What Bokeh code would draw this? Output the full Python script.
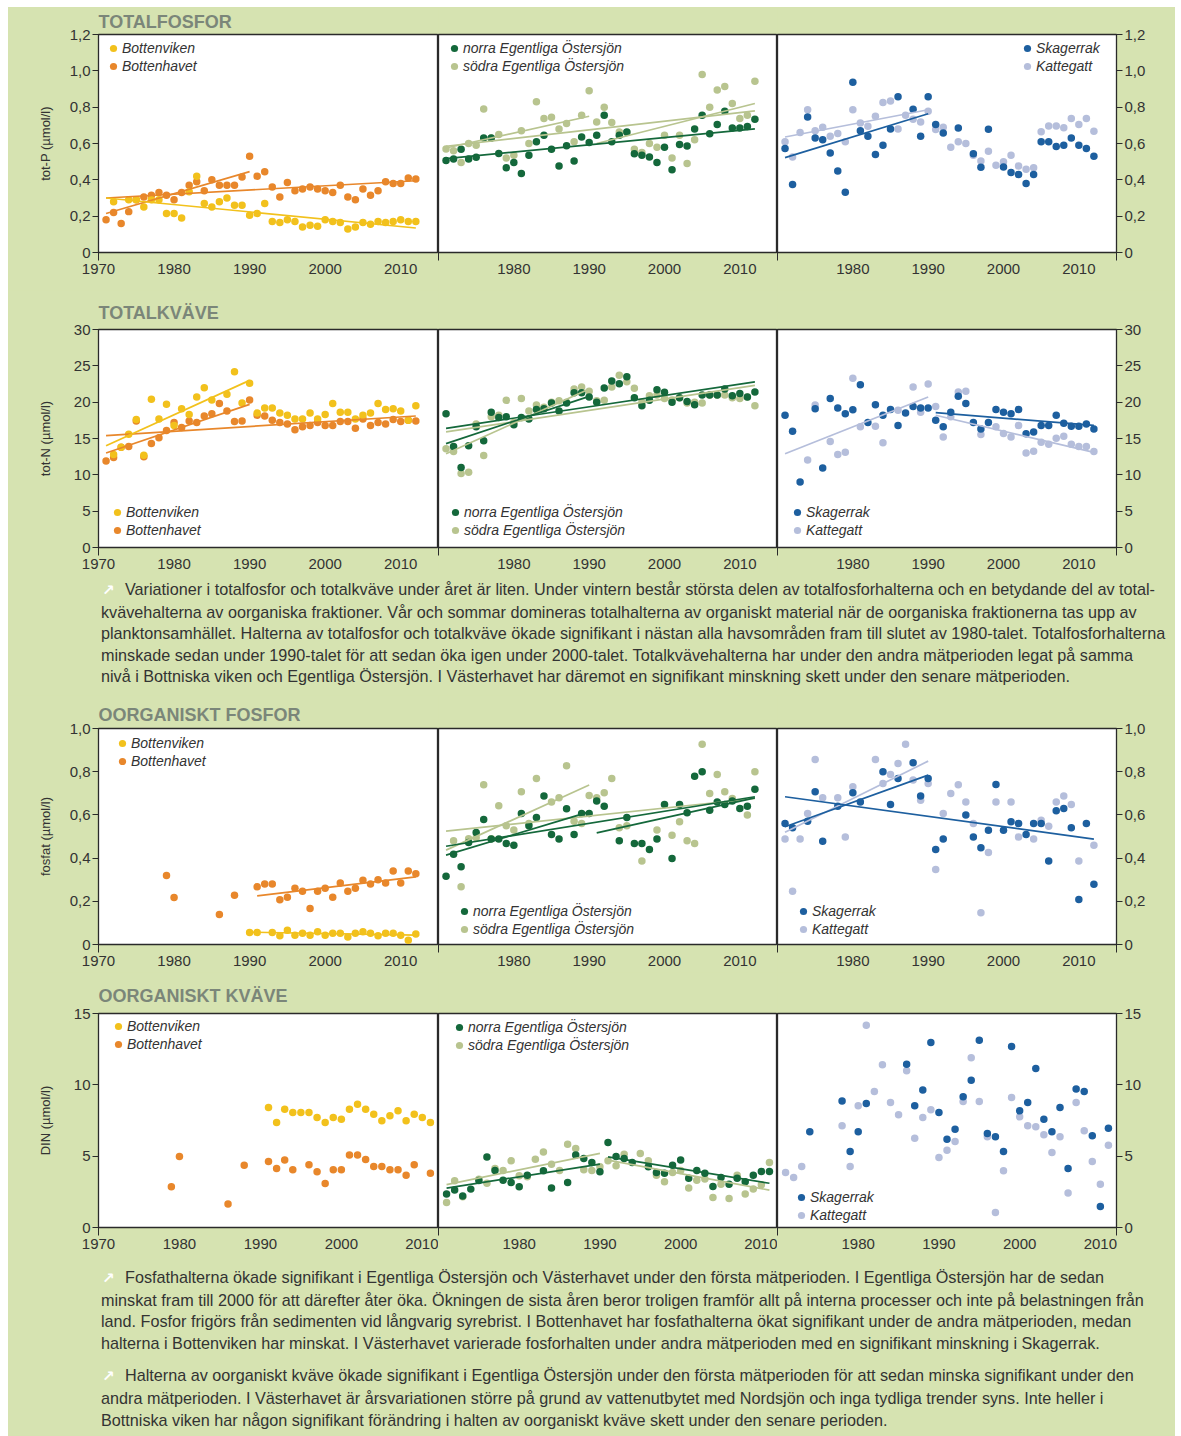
from bokeh.plotting import figure
from bokeh.layouts import column, row
from bokeh.models import Div, FixedTicker, CustomJSTickFormatter, Legend, LegendItem
from bokeh.embed import file_html
from bokeh.resources import INLINE

# ---------------------------------------------------------------- colours
BG = "#d6e3b1"
INK = "#333333"
FONT = "Liberation Sans"
C_BV, C_BH = "#f2c11c", "#e8872b"          # Bottenviken, Bottenhavet
C_NO, C_SO = "#14683b", "#b8c48f"          # norra / södra Egentliga Östersjön
C_SK, C_KA = "#1d5f9f", "#b5bedb"          # Skagerrak, Kattegatt

FULL = list(range(1971, 2013))

# ================================================================ TOTALFOSFOR
tp_bv_year = [1972] + list(range(1974, 2013))
tp_bv = [.28, .29, .29, .25, .29, .29, .215, .215, .19, .335, .42, .27, .25, .28, .30, .26, .26, .205, .215, .27,
         .17, .165, .18, .17, .14, .15, .145, .18, .17, .165, .13, .14, .165, .155, .17, .165, .17, .18, .17, .17]
tp_bh_year = FULL
tp_bh = [.18, .22, .16, .225, .29, .305, .315, .33, .315, .29, .33, .37, .39, .34, .40, .37, .37, .37, .415, .53,
         .42, .445, .36, .305, .385, .34, .35, .36, .35, .34, .33, .37, .305, .29, .35, .315, .34, .39, .38, .38,
         .41, .405]
tp_bv_trend = [(1971, 2012, 0.30, 0.135)]
tp_bh_trend = [(1971, 1990, 0.215, 0.445), (1971, 2012, 0.30, 0.395)]

tp_no_year = FULL
tp_no = [.507, .515, .568, .515, .525, .63, .63, .545, .467, .495, .435, .535, .61, .645, .568, .476, .588, .504,
         .636, .605, .645, .755, .61, .645, .663, .544, .535, .526, .495, .58, .456, .595, .586, .68, .755, .654,
         .705, .777, .685, .685, .694, .733]
tp_so_year = FULL
tp_so = [.57, .56, .495, .60, .59, .79, .63, .65, .52, .535, .67, .60, .83, .737, .745, .68, .71, .61, .755, .89,
         .718, .80, .715, .663, .66, .568, .55, .60, .58, .645, .52, .645, .49, .62, .98, .80, .895, .914, .82,
         .738, .755, .943]
tp_no_trend = [(1971, 2012, 0.517, 0.68)]
tp_so_trend = [(1971, 1990, 0.575, 0.75), (1971, 2012, 0.585, 0.78), (1991, 2012, 0.60, 0.82)]

tp_sk_year = [1971, 1972] + list(range(1974, 1987)) + list(range(1988, 1993)) + [1994, 1996, 1997, 1998] + \
    list(range(2000, 2013))
tp_sk = [.572, .374, .746, .63, .62, .548, .449, .332, .937, .67, .64, .54, .59, .68, .857, .788, .64, .857, .705,
         .658, .685, .544, .469, .678, .471, .44, .43, .38, .43, .61, .61, .584, .59, .63, .59, .573, .53]
tp_ka_year = FULL
tp_ka = [.61, .526, .66, .786, .67, .69, .64, .655, .61, .786, .713, .695, .75, .826, .834, .68, .755, .733, .718,
         .777, .677, .69, .58, .61, .60, .535, .503, .557, .48, .50, .535, .476, .458, .467, .665, .696, .696,
         .687, .737, .704, .737, .668]
tp_sk_trend = [(1971, 1990, 0.522, 0.764)]
tp_ka_trend = [(1971, 1990, 0.636, 0.786)]

# ================================================================ TOTALKVÄVE
tn_bv_year = list(range(1972, 1986)) + list(range(1987, 2013))
tn_bv = [12.8, 13.8, 15.6, 17.6, 12.7, 20.4, 17.7, 19.7, 16.8, 19.1, 18.3, 20.7, 22.0, 20.3,
         21.1, 24.2, 19.9, 22.6, 18.5, 19.2, 19.2, 18.5, 18.2, 17.7, 17.7, 18.5, 17.7, 18.3, 19.8, 18.6,
         18.6, 17.7, 18.2, 18.5, 19.8, 19.0, 19.1, 18.8, 17.5, 19.5]
tn_bh_year = FULL
tn_bh = [11.9, 12.4, 13.8, 13.9, 17.4, 12.5, 14.3, 15.1, 16.1, 17.2, 16.5, 17.4, 17.2, 18.1, 18.4, 19.8, 18.8,
         17.35, 17.4, 20.3, 18.2, 18.1, 17.5, 17.2, 17.0, 16.2, 16.6, 16.8, 17.2, 16.8, 16.8, 17.35, 17.35, 16.4,
         17.7, 16.8, 17.2, 17.0, 17.6, 17.35, 17.5, 17.4]
tn_bv_trend = [(1971, 1990, 14.0, 23.0)]
tn_bh_trend = [(1971, 1990, 13.0, 19.7), (1971, 2012, 15.4, 18.1)]

tn_no_year = FULL
tn_no = [18.4, 13.9, 11.0, 14.0, 16.6, 14.7, 18.6, 17.9, 18.0, 16.9, 17.9, 17.7, 19.0, 19.1, 19.9, 18.8, 19.9,
         21.3, 21.3, 20.7, 20.0, 21.95, 22.9, 22.55, 23.5, 20.6, 19.5, 20.25, 21.7, 21.35, 20.0, 20.6, 20.1, 19.65,
         21.0, 21.0, 21.0, 21.8, 20.9, 21.2, 20.7, 21.4]
tn_so_year = FULL
tn_so = [13.6, 13.2, 10.2, 10.35, 17.0, 12.65, 18.0, 18.2, 20.25, 17.2, 20.5, 18.8, 19.6, 19.3, 20.0, 20.2, 20.0,
         21.8, 22.1, 21.5, 20.2, 20.25, 22.1, 23.7, 22.8, 21.9, 20.0, 20.9, 21.0, 20.5, 20.3, 20.6, 19.9, 20.0,
         19.9, 21.0, 21.0, 21.0, 20.6, 20.5, 20.7, 19.5]
tn_no_trend = [(1971, 2012, 16.4, 22.8), (1971, 1990, 14.3, 20.8)]
tn_so_trend = [(1971, 1990, 12.9, 21.8), (1971, 2012, 15.9, 22.3)]

tn_sk_year = [1971, 1972, 1973] + list(range(1975, 2013))
tn_sk = [18.2, 16.0, 9.0, 19.1, 10.95, 20.5, 19.2, 18.4, 18.96, 22.4, 17.2, 19.65, 18.2, 19.0, 16.8, 18.5, 19.4,
         19.2, 19.2, 17.5, 16.6, 18.6, 20.8, 19.8, 17.2, 16.3, 17.2, 19.0, 18.6, 18.4, 19.0, 15.65, 15.9, 16.8,
         16.8, 18.2, 17.1, 16.7, 16.7, 17.0, 16.3]
tn_ka_year = [1974, 1975, 1977, 1978, 1979, 1980, 1981, 1983, 1984, 1986, 1988, 1989, 1990, 1991, 1992, 1993,
              1994, 1995, 1997, 1999, 2000, 2001, 2002, 2003, 2004, 2005, 2006, 2007, 2008, 2009, 2010, 2011, 2012]
tn_ka = [12.05, 19.6, 14.6, 12.8, 13.1, 23.3, 16.6, 16.7, 14.4, 18.9, 22.1, 18.6, 22.5, 19.4, 15.2, 18.0, 21.4,
         21.5, 15.55, 16.6, 15.7, 15.2, 16.8, 13.0, 13.25, 14.5, 14.2, 15.05, 15.3, 14.2, 13.9, 13.9, 13.2]
tn_sk_trend = [(1991, 2012, 18.55, 16.8)]
tn_ka_trend = [(1971, 1990, 12.9, 20.7), (1991, 2012, 18.2, 13.1)]

# ================================================================ OORGANISKT FOSFOR
po_bv_year = [1990, 1991] + list(range(1993, 2013))
po_bv = [.056, .056, .056, .04, .066, .043, .052, .043, .059, .043, .052, .052, .035, .052, .059, .052, .04,
         .052, .052, .043, .02, .049]
po_bh_year = [1979, 1980, 1986, 1988] + list(range(1991, 2013))
po_bh = [.32, .218, .139, .228, .267, .28, .28, .207, .219, .26, .247, .167, .247, .26, .219, .285, .247, .26,
         .298, .28, .30, .285, .34, .285, .34, .327]
po_bv_trend = [(1990, 2012, 0.057, 0.043)]
po_bh_trend = [(1991, 2012, 0.225, 0.313)]

po_no_year = list(range(1971, 1993)) + list(range(1994, 2013))
po_no = [.316, .418, .36, .472, .519, .579, .488, .488, .468, .46, .606, .55, .588, .688, .509, .488, .628, .509,
         .606, .606, .664, .64, .48, .588, .468, .468, .44, .488, .648, .398, .648, .61, .779, .80, .622, .66,
         .648, .664, .63, .64, .719]
po_so_year = [1972, 1973, 1974, 1975, 1976, 1977, 1978, 1979, 1980, 1981, 1982, 1983, 1985, 1986, 1987, 1988,
              1989, 1990, 1991, 1992, 1993, 1994, 1995, 1997, 1999, 2001, 2002, 2003, 2004, 2005, 2006, 2007,
              2008, 2009, 2011, 2012]
po_so = [.48, .267, .49, .494, .74, .49, .642, .55, .53, .707, .56, .768, .66, .679, .827, .571, .56, .69, .679,
         .702, .768, .54, .55, .387, .53, .506, .568, .48, .468, .927, .699, .787, .707, .676, .599, .80]
po_no_trend = [(1971, 2012, 0.455, 0.684), (1971, 1990, 0.414, 0.614), (1991, 2012, 0.517, 0.679)]
po_so_trend = [(1971, 1990, 0.437, 0.738), (1971, 2012, 0.525, 0.676)]

po_sk_year = [1971, 1972, 1974, 1975, 1976, 1978, 1980, 1981, 1984, 1985, 1986, 1988, 1989, 1990, 1991, 1992,
              1995, 1996, 1997, 1998, 1999, 2000, 2001, 2002, 2003, 2004, 2005, 2006, 2007, 2008, 2009, 2010,
              2011, 2012]
po_sk = [.56, .54, .571, .707, .478, .64, .702, .66, .80, .648, .768, .841, .688, .768, .44, .488, .599, .498,
         .448, .529, .741, .529, .568, .56, .509, .56, .56, .387, .619, .63, .54, .208, .56, .279]
po_ka_year = [1971, 1972, 1973, 1974, 1975, 1976, 1978, 1979, 1980, 1983, 1984, 1985, 1986, 1987, 1988, 1989,
              1990, 1991, 1992, 1993, 1994, 1995, 1996, 1997, 1998, 1999, 2001, 2002, 2004, 2005, 2006, 2007,
              2008, 2009, 2010, 2012]
po_ka = [.488, .247, .488, .606, .856, .679, .679, .498, .73, .856, .745, .787, .838, .927, .761, .668, .745,
         .347, .606, .699, .74, .66, .56, .147, .426, .66, .66, .498, .488, .575, .548, .66, .688, .648, .387, .46]
po_sk_trend = [(1971, 2012, 0.684, 0.488), (1971, 1990, 0.545, 0.784)]
po_ka_trend = [(1971, 1990, 0.52, 0.849)]

# ================================================================ OORGANISKT KVÄVE
no_bv_year = list(range(1991, 2012))
no_bv = [8.41, 7.36, 8.29, 8.06, 8.06, 8.06, 7.71, 7.36, 7.71, 7.59, 8.29, 8.64, 8.29, 7.94, 7.48, 7.83, 8.18,
         7.48, 7.94, 7.71, 7.36]
no_bh_year = [1979, 1980, 1986, 1988, 1991, 1992, 1993, 1994, 1996, 1997, 1998, 1999, 2000, 2001, 2002, 2003,
              2004, 2005, 2006, 2007, 2008, 2009, 2011]
no_bh = [2.85, 4.98, 1.64, 4.37, 4.63, 4.14, 4.74, 4.04, 4.39, 3.9, 3.08, 4.04, 4.04, 5.09, 5.09, 4.77, 4.28,
         4.28, 4.04, 4.04, 3.67, 4.39, 3.81]

no_no_year = list(range(1971, 1982)) + [1983, 1984] + list(range(1986, 1995)) + list(range(1996, 2012))
no_no = [2.34, 2.62, 2.2, 2.69, 3.3, 4.95, 4.0, 3.32, 3.15, 2.85, 3.67, 3.97, 2.76, 3.15, 5.09, 4.84, 4.56, 3.9,
         5.96, 4.98, 4.84, 4.56, 4.25, 3.86, 3.81, 4.37, 4.74, 3.46, 4.0, 3.81, 2.87, 3.5, 3.04, 3.46, 3.2, 3.67,
         3.93, 3.93]
no_so_year = [1971, 1972, 1973] + list(range(1975, 1994)) + list(range(1995, 2012))
no_so = [1.75, 3.27, 2.15, 3.39, 3.1, 4.14, 4.0, 4.67, 3.62, 3.55, 4.79, 5.3, 4.44, 4.0, 5.84, 5.54, 4.04, 4.0,
         4.25, 4.67, 4.32, 5.14, 5.19, 4.67, 3.67, 3.2, 3.86, 4.0, 2.76, 3.32, 3.4, 2.1, 3.04, 2.03, 3.67, 2.34,
         2.69, 3.0, 4.56]
no_no_trend = [(1971, 1990, 2.76, 4.44), (1991, 2011, 4.95, 3.1)]
no_so_trend = [(1971, 1990, 3.0, 5.2), (1991, 2011, 4.72, 2.62)]

no_sk_year = [1974, 1978, 1979, 1980, 1981] + list(range(1986, 2012))
no_sk = [6.71, 8.86, 5.33, 6.71, 8.69, 11.45, 8.53, 9.63, 12.97, 8.06, 6.19, 6.89, 9.16, 10.33, 13.13, 6.59,
         6.36, 5.33, 12.69, 8.18, 8.76, 11.14, 7.59, 6.71, 8.41, 4.14, 9.7, 9.53, 6.43, 1.47, 6.96]
no_ka_year = [1971, 1972, 1973] + list(range(1978, 2012))
no_ka = [3.86, 3.5, 4.28, 7.13, 4.28, 8.53, 14.18, 9.53, 11.4, 8.76, 7.9, 10.98, 6.26, 7.71, 8.25, 4.9, 5.42,
         6.03, 8.83, 11.9, 8.83, 6.36, 1.05, 3.97, 9.11, 7.76, 7.13, 7.06, 6.5, 5.26, 6.36, 2.41, 8.76, 6.78,
         4.63, 3.04, 5.77]

# ================================================================ texts
LBL_BV, LBL_BH = "Bottenviken", "Bottenhavet"
LBL_NO, LBL_SO = "norra Egentliga Östersjön", "södra Egentliga Östersjön"
LBL_SK, LBL_KA = "Skagerrak", "Kattegatt"

PARA_1 = [
    "Variationer i totalfosfor och totalkväve under året är liten. Under vintern består största delen av totalfosforhalterna och en betydande del av total-",
    "kvävehalterna av oorganiska fraktioner. Vår och sommar domineras totalhalterna av organiskt material när de oorganiska fraktionerna tas upp av",
    "planktonsamhället. Halterna av totalfosfor och totalkväve ökade signifikant i nästan alla havsområden fram till slutet av 1980-talet. Totalfosforhalterna",
    "minskade sedan under 1990-talet för att sedan öka igen under 2000-talet. Totalkvävehalterna har under den andra mätperioden legat på samma",
    "nivå i Bottniska viken och Egentliga Östersjön. I Västerhavet har däremot en signifikant minskning skett under den senare mätperioden.",
]
PARA_2 = [
    "Fosfathalterna ökade signifikant i Egentliga Östersjön och Västerhavet under den första mätperioden. I Egentliga Östersjön har de sedan",
    "minskat fram till 2000 för att därefter åter öka. Ökningen de sista åren beror troligen framför allt på interna processer och inte på belastningen från",
    "land. Fosfor frigörs från sedimenten vid långvarig syrebrist. I Bottenhavet har fosfathalterna ökat signifikant under de andra mätperioden, medan",
    "halterna i Bottenviken har minskat. I Västerhavet varierade fosforhalten under andra mätperioden med en signifikant minskning i Skagerrak.",
]
PARA_3 = [
    "Halterna av oorganiskt kväve ökade signifikant i Egentliga Östersjön under den första mätperioden för att sedan minska signifikant under den",
    "andra mätperioden. I Västerhavet är årsvariationen större på grund av vattenutbytet med Nordsjön och inga tydliga trender syns. Inte heller i",
    "Bottniska viken har någon signifikant förändring i halten av oorganiskt kväve skett under den senare perioden.",
]

# ================================================================ drawing helpers
PANEL_W = {"left": (430, 90, 0), "mid": (339, 0, 0), "right": (398, 0, 59)}
LEG_PAD, LEG_ROW = 6, 18
LEG_H = 2 * LEG_PAD + 2 * LEG_ROW


def legend_location(spec, anchor, dx, dy):
    """Bottom-left corner of the legend box, in pixels from the frame's bottom-left.
    dx: marker centre from the frame's left edge;
    dy: first item centre from the top (anchor 'top') or last item centre from the bottom."""
    frame_h = spec["height"] - spec["top"] - spec["bottom"]
    vx = dx - LEG_PAD - 9
    if anchor == "top":
        vy = frame_h - (dy - LEG_PAD - LEG_ROW // 2) - LEG_H
    else:
        vy = dy - LEG_PAD - LEG_ROW // 2
    return (vx, vy)


def make_panel(pos, spec, series, leg):
    width, b_left, b_right = PANEL_W[pos]
    p = figure(width=width, height=spec["height"], x_range=(1970, spec["x_end"]), y_range=(0, spec["y_end"]),
               y_axis_location={"left": "left", "mid": None, "right": "right"}[pos],
               toolbar_location=None, output_backend="svg",
               min_border_left=b_left, min_border_right=b_right,
               min_border_top=spec["top"], min_border_bottom=spec["bottom"],
               background_fill_color="white", border_fill_color=BG,
               outline_line_color="#2a2a2a", outline_line_width=1.3)
    p.grid.visible = False

    xa = p.xaxis[0]
    xa.ticker = FixedTicker(ticks=[1970, 1980, 1990, 2000, 2010] if pos == "left" else [1980, 1990, 2000, 2010],
                            minor_ticks=[1970, spec["x_end"]])
    xa.major_tick_out = 0
    xa.major_tick_in = 0
    xa.minor_tick_out = 8
    xa.minor_tick_in = 0
    xa.minor_tick_line_color = "#2a2a2a"
    xa.axis_line_color = "#2a2a2a"
    xa.major_label_standoff = 3
    xa.major_label_text_font = FONT
    xa.major_label_text_font_size = "15px"
    xa.major_label_text_color = INK

    if pos != "mid":
        ya = p.yaxis[0]
        ya.ticker = FixedTicker(ticks=spec["y_ticks"])
        if spec["decimals"]:
            ya.formatter = CustomJSTickFormatter(
                code="return tick === 0 ? '0' : tick.toFixed(1).replace('.', ',');")
        ya.major_tick_out = 6
        ya.major_tick_in = 0
        ya.minor_tick_out = 0
        ya.minor_tick_in = 0
        ya.major_tick_line_color = "#2a2a2a"
        ya.axis_line_color = "#2a2a2a"
        ya.major_label_standoff = 2
        ya.major_label_text_font = FONT
        ya.major_label_text_font_size = "15px"
        ya.major_label_text_color = INK
        if pos == "left":
            ya.axis_label = spec["ylabel"]
            ya.axis_label_standoff = spec["ylabel_standoff"]
            ya.axis_label_text_font = FONT
            ya.axis_label_text_font_style = "normal"
            ya.axis_label_text_font_size = "13px"
            ya.axis_label_text_color = INK
            p.title.text = spec["title"]
            p.title.text_font = FONT
            p.title.text_font_size = "18px"
            p.title.text_font_style = "bold"
            p.title.text_color = "#7b8679"
            p.title.align = "left"
            p.title.standoff = spec["title_standoff"]

    # series are listed in legend order; the first one is drawn last (on top)
    drawn = {}
    for label, years, values, color, trends in reversed(series):
        drawn[label] = p.scatter(x=years, y=values, size=7.5, fill_color=color, line_color=None)
    for label, years, values, color, trends in reversed(series):
        if trends:
            p.segment(x0=[t[0] for t in trends], x1=[t[1] for t in trends],
                      y0=[t[2] for t in trends], y1=[t[3] for t in trends],
                      line_color=color, line_width=1.7)

    legend = Legend(items=[LegendItem(label=s[0], renderers=[drawn[s[0]]]) for s in series],
                    location=legend_location(spec, *leg), margin=0, padding=LEG_PAD, spacing=0,
                    glyph_width=18, glyph_height=LEG_ROW, label_height=LEG_ROW, label_standoff=0,
                    label_text_font=FONT, label_text_font_style="italic", label_text_font_size="14px",
                    label_text_color=INK, background_fill_alpha=0, border_line_alpha=0)
    p.add_layout(legend)
    return p


def panel_row(spec, panels):
    return row(*[make_panel(pos, spec, series, leg) for pos, series, leg in panels], spacing=0)


SPEC_TP = dict(height=283, top=27, bottom=38, x_end=2015, y_end=1.2,
               y_ticks=[0, 0.2, 0.4, 0.6, 0.8, 1.0, 1.2], decimals=True,
               title="TOTALFOSFOR", title_standoff=5, ylabel="tot-P (µmol/l)", ylabel_standoff=14)
SPEC_TN = dict(height=282, top=39, bottom=25, x_end=2015, y_end=30,
               y_ticks=[0, 5, 10, 15, 20, 25, 30], decimals=False,
               title="TOTALKVÄVE", title_standoff=13, ylabel="tot-N (µmol/l)", ylabel_standoff=18)
SPEC_PO = dict(height=277, top=33, bottom=28, x_end=2015, y_end=1.0,
               y_ticks=[0, 0.2, 0.4, 0.6, 0.8, 1.0], decimals=True,
               title="OORGANISKT FOSFOR", title_standoff=7, ylabel="fosfat (µmol/l)", ylabel_standoff=14)
SPEC_NO = dict(height=283, top=41, bottom=28, x_end=2012, y_end=15,
               y_ticks=[0, 5, 10, 15], decimals=False,
               title="OORGANISKT KVÄVE", title_standoff=16, ylabel="DIN (µmol/l)", ylabel_standoff=18)

row_tp = panel_row(SPEC_TP, [
    ("left", [(LBL_BV, tp_bv_year, tp_bv, C_BV, tp_bv_trend), (LBL_BH, tp_bh_year, tp_bh, C_BH, tp_bh_trend)],
     ("top", 15, 14)),
    ("mid", [(LBL_NO, tp_no_year, tp_no, C_NO, tp_no_trend), (LBL_SO, tp_so_year, tp_so, C_SO, tp_so_trend)],
     ("top", 16, 14)),
    ("right", [(LBL_SK, tp_sk_year, tp_sk, C_SK, tp_sk_trend), (LBL_KA, tp_ka_year, tp_ka, C_KA, tp_ka_trend)],
     ("top", 250, 14)),
])
row_tn = panel_row(SPEC_TN, [
    ("left", [(LBL_BV, tn_bv_year, tn_bv, C_BV, tn_bv_trend), (LBL_BH, tn_bh_year, tn_bh, C_BH, tn_bh_trend)],
     ("bottom", 19, 17)),
    ("mid", [(LBL_NO, tn_no_year, tn_no, C_NO, tn_no_trend), (LBL_SO, tn_so_year, tn_so, C_SO, tn_so_trend)],
     ("bottom", 17, 17)),
    ("right", [(LBL_SK, tn_sk_year, tn_sk, C_SK, tn_sk_trend), (LBL_KA, tn_ka_year, tn_ka, C_KA, tn_ka_trend)],
     ("bottom", 20, 17)),
])
row_po = panel_row(SPEC_PO, [
    ("left", [(LBL_BV, po_bv_year, po_bv, C_BV, po_bv_trend), (LBL_BH, po_bh_year, po_bh, C_BH, po_bh_trend)],
     ("top", 24, 15)),
    ("mid", [(LBL_NO, po_no_year, po_no, C_NO, po_no_trend), (LBL_SO, po_so_year, po_so, C_SO, po_so_trend)],
     ("bottom", 26, 15)),
    ("right", [(LBL_SK, po_sk_year, po_sk, C_SK, po_sk_trend), (LBL_KA, po_ka_year, po_ka, C_KA, po_ka_trend)],
     ("bottom", 26, 15)),
])
row_no = panel_row(SPEC_NO, [
    ("left", [(LBL_BV, no_bv_year, no_bv, C_BV, None), (LBL_BH, no_bh_year, no_bh, C_BH, None)],
     ("top", 20, 13)),
    ("mid", [(LBL_NO, no_no_year, no_no, C_NO, no_no_trend), (LBL_SO, no_so_year, no_so, C_SO, no_so_trend)],
     ("top", 21, 14)),
    ("right", [(LBL_SK, no_sk_year, no_sk, C_SK, None), (LBL_KA, no_ka_year, no_ka, C_KA, None)],
     ("bottom", 24, 12)),
])

# ================================================================ text blocks
ARROW = ('<span style="display:inline-block;width:24px;padding-left:1px;box-sizing:border-box;'
         'color:#ffffff;font-weight:bold;font-family:\'DejaVu Sans\';font-size:15px;">&#8599;</span>')
TEXT_CSS = ("font-family:'Liberation Sans',Arial,sans-serif;font-size:16.2px;line-height:21.6px;"
            "color:#333333;white-space:nowrap;")


def paragraph(lines, extra=""):
    return f'<div style="{TEXT_CSS}{extra}">' + ARROW + "<br>".join(lines) + "</div>"


div_1 = Div(text=f'<div style="padding:7px 0 0 93px;">{paragraph(PARA_1)}</div>',
            width=1167, height=123, margin=0, styles={"background-color": BG})
div_2 = Div(text=f'<div style="padding:12px 0 0 93px;">{paragraph(PARA_2)}'
                 f'{paragraph(PARA_3, "margin-top:11px;")}</div>',
            width=1167, height=181, margin=0, styles={"background-color": BG})

page = column(row_tp, row_tn, div_1, row_po, row_no, div_2, spacing=0, margin=(7, 0, 0, 8),
              styles={"background-color": BG})

with open("out.html", "w") as f:
    f.write(file_html(page, INLINE, title="Närsalter"))
